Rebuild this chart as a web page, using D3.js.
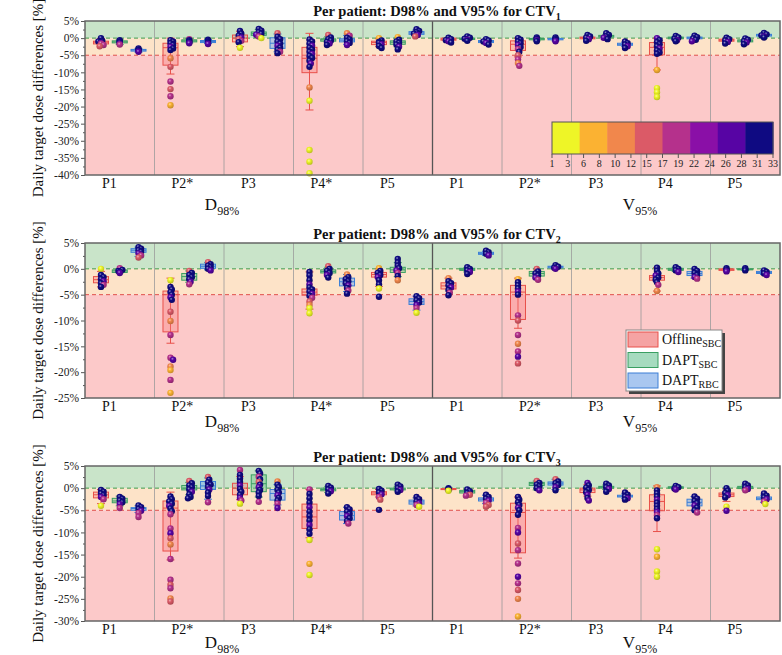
<!DOCTYPE html>
<html>
<head>
<meta charset="utf-8">
<script src="https://cdn.jsdelivr.net/npm/d3@7"></script>
<style>
  body { margin: 0; background: #fff; }
  svg { display: block; }
  text { font-family: "Liberation Serif", "Times New Roman", Times, serif; }
</style>
</head>
<body>
<div id="chart"></div>
<script>
// band labels, left half = D98%, right half = V95%
const bandLabels = ["P1", "P2*", "P3", "P4*", "P5", "P1", "P2*", "P3", "P4", "P5"];
const methods = ["Offline", "DAPT_SBC", "DAPT_RBC"];
const colorbarTicks = [1, 3, 6, 8, 10, 12, 15, 17, 19, 22, 24, 26, 28, 31, 33];
const fractionColors = ["#eef527", "#fbb232", "#f1874c", "#db5a67", "#b5318c", "#8a0fa7", "#5704a4", "#0f0a82"];

// boxes: [whiskerLow, q1, median, q3, whiskerHigh], order = band x method
const ctv1Boxes = [
  [-2.5, -1.7, -1.2, -0.9, -0.1], [-1.9, -1.4, -1.1, -0.8, -0.5], [-4.1, -3.8, -3.5, -3.3, -3.0],
  [-10.5, -7.9, -2.8, -1.5, 0], [-1.4, -1.1, -0.8, -0.5, -0.2], [-1.6, -1.3, -1.0, -0.7, -0.4],
  [-2.5, -1.1, 0, 0.9, 2.0], [0.2, 0.8, 1.3, 1.8, 2.5], [-4.0, -3.0, -1.5, 0.1, 1.2],
  [-21, -10.1, -5.9, -2.7, 1.4], [-1.5, -0.9, -0.5, -0.2, 0.4], [-1.8, -1.1, -0.6, -0.2, 0.8],
  [-2.5, -1.9, -1.3, -0.9, -0.2], [-2.6, -1.8, -1.2, -0.8, 0], [0.6, 1.1, 1.5, 1.9, 2.4],
  [-1.0, -0.6, -0.3, 0, 0.1], [-0.6, -0.4, -0.2, 0, 0.2], [-1.6, -1.3, -1.0, -0.7, -0.4],
  [-5.5, -3.6, -1.8, -0.8, 0], [-0.8, -0.5, -0.3, -0.1, 0.1], [-0.8, -0.5, -0.3, -0.1, 0.1],
  [-0.5, -0.2, 0.1, 0.3, 0.6], [0, 0.3, 0.6, 0.8, 1.1], [-2.4, -2.1, -1.8, -1.5, -1.2],
  [-9.3, -4.9, -2.7, -1.3, 0], [-0.4, -0.2, 0.1, 0.3, 0.5], [-0.4, -0.2, 0.1, 0.3, 0.5],
  [-1.2, -0.9, -0.6, -0.3, 0], [-1.4, -1.1, -0.8, -0.5, -0.2], [0.4, 0.6, 0.9, 1.1, 1.4]
];
// points: [value, fraction]
const ctv1Points = [
  [[0,31],[-0.8,31],[-1.0,29],[-1.2,31],[-1.4,26],[-1.6,19],[-2.0,19],[-2.4,15]],
  [[-0.6,31],[-0.9,31],[-1.1,29],[-1.3,31],[-1.6,26],[-1.9,19]],
  [[-3.0,31],[-3.3,31],[-3.5,29],[-3.7,31],[-4.0,26]],
  [[-0.6,31],[-1.0,29],[-1.5,31],[-2.0,31],[-2.5,26],[-3.0,31],[-3.5,29],[-5.9,10],[-8.4,15],[-12.7,19],[-14.9,15],[-17.0,19],[-19.6,6]],
  [[-0.3,19],[-0.6,31],[-0.9,31],[-1.2,29],[-1.5,26]],
  [[-0.5,31],[-0.8,29],[-1.1,31],[-1.4,31],[-1.7,26]],
  [[2.1,31],[1.3,29],[0.7,31],[0.2,26],[-0.3,15],[-0.8,19],[-1.2,31],[-2.8,2]],
  [[2.7,31],[2.2,31],[1.7,29],[1.3,31],[1.0,26],[0.5,19],[0,2]],
  [[1.4,15],[0.4,31],[-0.3,29],[-1.0,31],[-1.6,31],[-2.2,26],[-2.8,31],[-3.4,29],[-4.0,19],[-4.4,31]],
  [[-0.4,31],[-1.0,29],[-1.6,31],[-2.2,26],[-2.8,31],[-3.4,29],[-4.0,31],[-4.6,26],[-5.2,31],[-5.8,29],[-6.6,31],[-7.4,26],[-8.4,29],[-14.4,10],[-18.3,2],[-32.7,2],[-36.1,2],[-39.5,2]],
  [[0.9,15],[0.2,31],[-0.3,31],[-0.7,29],[-1.1,31],[-1.6,26],[-2.0,31]],
  [[1.4,10],[0.7,19],[0.1,31],[-0.4,31],[-0.9,29],[-1.4,31],[-2.0,26]],
  [[0,6],[-0.7,31],[-1.1,31],[-1.4,29],[-1.8,26],[-2.3,31],[-2.9,31]],
  [[0.3,6],[-0.5,31],[-1.0,31],[-1.4,29],[-1.9,31],[-2.5,26],[-3.3,31]],
  [[2.6,31],[2.1,31],[1.7,29],[1.3,31],[0.9,26],[0.5,15]],
  [[0.1,31],[-0.3,31],[-0.6,29],[-0.9,26],[-1.3,31]],
  [[0.5,31],[0.1,31],[-0.2,29],[-0.5,26],[-0.8,31]],
  [[-0.3,31],[-0.7,29],[-1.0,31],[-1.4,26],[-1.9,31]],
  [[0,31],[-0.5,31],[-1.0,29],[-1.5,31],[-2.0,26],[-2.6,31],[-3.2,19],[-4.0,29],[-5.0,15],[-6.2,19],[-7.3,10],[-8.1,19]],
  [[0.2,31],[-0.1,31],[-0.3,29],[-0.6,26],[-0.9,31]],
  [[0.2,31],[-0.1,29],[-0.3,31],[-0.6,31],[-0.9,26]],
  [[0.9,31],[0.5,31],[0.1,29],[-0.3,26],[-0.8,31]],
  [[1.4,31],[0.9,31],[0.5,29],[0.1,26],[-0.3,31]],
  [[-1.0,31],[-1.5,29],[-1.9,31],[-2.4,26],[-2.9,31]],
  [[0,26],[-0.6,31],[-1.2,29],[-1.8,31],[-2.4,31],[-3.0,26],[-3.6,31],[-4.2,29],[-4.6,31],[-9.3,6],[-14.6,2],[-15.8,2],[-17.2,2]],
  [[0.6,31],[0.2,31],[-0.2,29],[-0.6,26],[-0.9,31]],
  [[0.7,31],[0.3,29],[-0.1,31],[-0.5,31],[-0.9,26]],
  [[0.1,31],[-0.3,31],[-0.7,29],[-1.1,26],[-1.6,31]],
  [[-0.1,31],[-0.5,31],[-0.9,29],[-1.3,26],[-1.8,31]],
  [[1.5,31],[1.1,31],[0.8,29],[0.5,26],[0.2,31]]
];

const ctv2Boxes = [
  [-3.5, -2.7, -2.1, -1.5, -0.5], [-0.8, -0.7, -0.4, -0.2, 0], [2.4, 3.2, 3.6, 3.9, 4.2],
  [-14.4, -12.2, -5.0, -4.3, -1.8], [-2.6, -2.2, -1.5, -0.9, -0.4], [-0.2, 0.1, 0.5, 0.9, 1.2],
  null, null, null,
  [-7.8, -5.1, -4.5, -3.9, -0.6], [-1.2, -0.8, -0.5, -0.2, 0.3], [-4.4, -3.3, -2.5, -1.8, -1.1],
  [-3.4, -1.6, -1.1, -0.7, 0], [-1.5, -0.7, -0.2, 0.3, 1.2], [-8.0, -6.9, -6.3, -5.8, -5.3],
  [-5.0, -3.9, -3.3, -2.7, -1.8], [-0.6, -0.3, -0.1, 0.1, 0.2], [2.6, 2.8, 3.0, 3.2, 3.4],
  [-11.5, -9.8, -4.5, -3.2, -1.8], [-1.8, -1.4, -0.9, -0.5, 0], [0, 0.2, 0.4, 0.5, 0.6],
  null, null, null,
  [-4.3, -2.2, -1.7, -1.3, 0.2], [-0.5, -0.3, -0.1, 0.1, 0.3], [-1.8, -1.3, -0.9, -0.5, 0],
  [-0.4, -0.3, -0.1, 0, 0.1], [-0.3, -0.2, -0.1, 0, 0.1], [-1.1, -0.9, -0.7, -0.5, -0.3]
];
const ctv2Points = [
  [[0,2],[-1.2,31],[-1.6,29],[-2.0,31],[-2.4,26],[-2.8,31],[-3.1,19],[-3.5,29]],
  [[0.1,19],[-0.2,31],[-0.4,29],[-0.6,31],[-0.8,26]],
  [[4.2,31],[3.9,31],[3.6,29],[3.3,31],[3.0,26],[2.6,19],[2.2,15]],
  [[-2.2,2],[-3.5,31],[-4.0,31],[-4.5,29],[-5.0,31],[-5.5,26],[-6.0,29],[-8.3,15],[-10.1,12],[-12.8,19],[-17.2,19],[-17.6,26],[-18.9,10],[-19.6,8],[-21.5,19],[-24.0,6]],
  [[-0.4,15],[-0.8,31],[-1.2,29],[-1.6,31],[-2.0,31],[-2.5,26],[-3.0,19]],
  [[1.3,15],[0.9,31],[0.6,29],[0.3,31],[0,31],[-0.3,26]],
  [], [], [],
  [[-0.6,31],[-1.3,29],[-2.2,31],[-3.0,26],[-3.6,31],[-4.0,29],[-4.4,31],[-4.8,26],[-5.2,31],[-5.6,19],[-6.3,15],[-7.0,10],[-7.6,2],[-8.6,2]],
  [[0.5,15],[0,31],[-0.4,31],[-0.8,29],[-1.2,26],[-1.7,31]],
  [[-1.1,10],[-1.6,31],[-2.0,29],[-2.4,31],[-2.8,31],[-3.2,26],[-3.7,29],[-4.2,19],[-4.8,31]],
  [[0.1,6],[-0.4,31],[-0.8,31],[-1.2,29],[-1.6,26],[-2.2,31],[-3.0,29],[-3.8,2],[-5.4,31]],
  [[1.9,31],[1.2,31],[0.6,29],[0.1,31],[-0.3,26],[-0.8,19],[-1.4,31],[-2.2,10]],
  [[-5.3,31],[-5.7,31],[-6.1,29],[-6.5,31],[-7.0,26],[-7.6,19],[-8.5,2]],
  [[-1.8,10],[-2.4,31],[-2.8,29],[-3.2,31],[-3.6,26],[-4.1,31],[-4.6,19],[-5.1,29]],
  [[0.3,31],[0,31],[-0.3,29],[-0.6,26],[-1.0,31]],
  [[3.5,31],[3.2,29],[2.9,31],[2.6,26]],
  [[-2.0,6],[-2.6,31],[-3.2,29],[-3.8,31],[-4.4,26],[-5.0,31],[-9.0,19],[-10.0,15],[-12.8,19],[-14.5,10],[-16.0,19],[-17.0,26],[-18.3,15]],
  [[0,15],[-0.5,31],[-0.9,29],[-1.3,31],[-1.7,26],[-2.1,19]],
  [[0.7,31],[0.4,29],[0.2,31],[0,26]],
  [], [], [],
  [[0.2,31],[-0.4,29],[-0.9,31],[-1.3,26],[-1.7,31],[-2.1,29],[-2.6,31],[-3.1,19],[-4.3,12]],
  [[0.3,31],[0,29],[-0.3,31],[-0.6,26]],
  [[0,31],[-0.4,29],[-0.8,31],[-1.2,31],[-1.6,26],[-1.9,19]],
  [[0.1,31],[-0.1,31],[-0.3,29],[-0.5,26]],
  [[0.1,31],[-0.1,29],[-0.3,31]],
  [[-0.3,31],[-0.6,29],[-0.9,31],[-1.2,26]]
];

const ctv3Boxes = [
  [-3.5, -2.2, -1.5, -0.9, -0.3], [-4.0, -3.3, -2.9, -2.3, -1.8], [-5.5, -5.0, -4.6, -4.4, -4.0],
  [-16.2, -14.2, -4.5, -2.9, -0.9], [-1.5, -0.4, 0, 0.6, 1.3], [-2.5, -0.3, 0.5, 1.5, 2.3],
  [-2.6, -1.5, 0, 1.1, 2.6], [-2.0, -0.8, 1.0, 3.0, 3.9], [-3.8, -2.7, -1.2, -0.3, 0.8],
  [-11.2, -9.1, -6.5, -3.6, -0.3], [-1.0, -0.6, -0.3, 0, 0.4], [-8.0, -7.2, -6.2, -5.3, -4.3],
  [-2.0, -1.5, -1.1, -0.8, -0.3], [-0.6, -0.4, -0.2, 0, 0.4], [-4.0, -3.6, -3.1, -2.7, -2.2],
  [-0.4, -0.3, -0.2, -0.1, 0], [-1.4, -1.1, -0.8, -0.5, -0.3], [-3.5, -2.9, -2.5, -2.2, -1.6],
  [-15.8, -14.6, -5.5, -3.4, -2.0], [-0.4, 0.6, 1.0, 1.3, 1.6], [-0.3, 0.7, 1.1, 1.4, 2.0],
  [-1.8, -1.0, -0.4, 0, 0.8], [-0.3, 0, 0.2, 0.4, 0.7], [-2.3, -2.0, -1.8, -1.6, -1.3],
  [-9.8, -5.1, -3.0, -1.5, 0.5], [-0.2, 0, 0.2, 0.3, 0.5], [-5.0, -4.0, -3.2, -2.5, -1.9],
  [-3.0, -1.9, -1.5, -1.1, -0.2], [-0.4, -0.1, 0.2, 0.4, 0.7], [-3.2, -2.6, -2.3, -2.0, -1.6]
];
const ctv3Points = [
  [[-0.4,31],[-0.8,31],[-1.2,29],[-1.6,31],[-2.0,26],[-2.5,19],[-4.0,2]],
  [[-2.0,31],[-2.4,31],[-2.8,29],[-3.2,31],[-3.6,26],[-4.5,19]],
  [[-3.9,31],[-4.3,31],[-4.7,29],[-5.1,26],[-5.6,19],[-6.5,19]],
  [[-1.9,31],[-2.5,31],[-3.0,29],[-3.5,31],[-4.0,26],[-4.6,31],[-5.2,29],[-5.9,19],[-9.1,19],[-10.2,26],[-11.3,15],[-12.7,10],[-16.0,19],[-20.7,19],[-21.8,15],[-22.6,19],[-24.9,10],[-25.6,15]],
  [[1.6,15],[1.1,31],[0.6,29],[0.2,31],[-0.3,31],[-0.8,26],[-1.4,31],[-2.0,29],[-2.3,31]],
  [[2.5,15],[1.9,31],[1.3,29],[0.8,31],[0.3,31],[-0.3,26],[-1.0,31],[-1.8,29],[-3.2,19]],
  [[4.1,19],[3.0,31],[2.2,29],[1.4,31],[0.6,26],[-0.2,31],[-0.8,29],[-1.5,31],[-2.2,26],[-2.8,19],[-3.5,2]],
  [[3.9,31],[3.3,31],[2.6,19],[2.0,29],[1.4,15],[0.8,31],[0.2,26],[-0.4,31],[-1.0,29],[-1.8,31],[-3.1,19]],
  [[1.5,10],[0.8,31],[0.2,29],[-0.4,31],[-1.0,31],[-1.6,26],[-2.2,31],[-2.8,29],[-3.5,19],[-4.5,26]],
  [[-0.3,19],[-1.3,31],[-2.3,29],[-3.3,31],[-4.3,26],[-5.3,31],[-6.3,29],[-7.3,31],[-8.3,26],[-9.3,31],[-10.3,29],[-11.7,2],[-17.1,6],[-19.6,2]],
  [[0.5,31],[0.1,31],[-0.3,29],[-0.7,26],[-1.2,31]],
  [[-4.3,31],[-4.8,31],[-5.3,29],[-5.8,31],[-6.3,26],[-6.8,31],[-7.4,29],[-8.0,19]],
  [[-0.2,31],[-0.6,31],[-1.0,29],[-1.4,26],[-2.0,19],[-2.6,15],[-4.9,29]],
  [[0.8,31],[0.4,31],[0,29],[-0.4,26],[-0.8,31]],
  [[-2.0,31],[-2.5,31],[-3.0,29],[-3.4,26],[-3.8,19],[-4.2,2]],
  [[0,31],[-0.2,31],[-0.4,29],[-0.6,2]],
  [[-0.3,31],[-0.7,31],[-1.1,29],[-1.5,15],[-1.7,19]],
  [[-1.5,31],[-2.0,31],[-2.4,29],[-2.8,26],[-3.3,19],[-3.8,15],[-4.2,15]],
  [[-2.0,31],[-2.6,31],[-3.2,29],[-3.8,31],[-4.4,26],[-5.0,31],[-6.0,29],[-9.0,19],[-10.0,26],[-12.5,15],[-14.0,19],[-17.0,19],[-20.0,26],[-21.5,19],[-23.0,15],[-25.0,10],[-29.0,6]],
  [[1.6,15],[1.2,31],[0.8,29],[0.4,31],[0,31],[-0.5,26]],
  [[2.0,15],[1.5,31],[1.1,29],[0.7,31],[0.2,26],[-0.5,31]],
  [[1.2,26],[0.6,31],[0.1,29],[-0.4,31],[-0.9,31],[-1.5,26],[-2.2,29],[-2.8,26]],
  [[1.0,31],[0.6,31],[0.2,29],[-0.2,26],[-0.8,31]],
  [[-1.0,31],[-1.5,31],[-1.9,29],[-2.3,26],[-2.6,31]],
  [[0.2,10],[-0.5,31],[-1.2,29],[-1.9,31],[-2.6,26],[-3.3,31],[-4.0,29],[-4.7,31],[-5.4,26],[-6.1,19],[-6.8,29],[-13.8,2],[-15.5,6],[-18.8,2],[-20.0,2]],
  [[0.5,31],[0.2,31],[-0.1,29],[-0.3,26]],
  [[-1.9,31],[-2.4,31],[-2.9,29],[-3.4,31],[-3.9,26],[-4.4,31],[-5.0,29],[-5.5,19]],
  [[0,31],[-0.6,31],[-1.1,29],[-1.6,26],[-2.1,31],[-4.2,2],[-5.1,26]],
  [[1.0,31],[0.6,31],[0.2,29],[-0.2,26],[-0.5,19]],
  [[-1.2,31],[-1.7,31],[-2.1,29],[-2.5,26],[-3.0,19],[-3.6,2]]
];

const ctvYMin = [-40, -25, -30];
const zoneColors = ["#c9e4c9", "#fde3c8", "#fcc9c9"];

const methodStyle = {
  Offline:  { fill: "rgba(248,120,120,0.35)", stroke: "#e8504a", swatch: "#f5a3a3" },
  DAPT_SBC: { fill: "rgba(110,200,140,0.45)", stroke: "#3a9f62", swatch: "#a6dbbf" },
  DAPT_RBC: { fill: "rgba(120,175,240,0.55)", stroke: "#3c7fd6", swatch: "#a9c7f0" }
};

const W = 782, H = 655;
const svg = d3.select("#chart").append("svg").attr("width", W).attr("height", H);
const defs = svg.append("defs");

fractionColors.forEach((c, i) => {
  const gr = defs.append("radialGradient").attr("id", "ball" + i)
    .attr("cx", "40%").attr("cy", "35%").attr("r", "65%");
  gr.append("stop").attr("offset", "0%").attr("stop-color", d3.interpolateRgb(c, "#fff")(0.55));
  gr.append("stop").attr("offset", "35%").attr("stop-color", c);
  gr.append("stop").attr("offset", "100%").attr("stop-color", d3.color(c).darker(0.7));
});

const colorIdx = d3.scaleQuantize().domain([1, 33]).range(d3.range(8));
const x = d3.scaleBand().domain(d3.range(10)).range([85, 780]);
const bw = x.bandwidth();
const xm = d3.scalePoint().domain(methods).range([bw * 0.23, bw * 0.77]);
const boxW = 15, R = 3.2;

const panels = [
  { boxes: ctv1Boxes, points: ctv1Points, sub: "1", top: 21, bottom: 175, titleY: 16, labY: 188, dvY: 210 },
  { boxes: ctv2Boxes, points: ctv2Points, sub: "2", top: 243, bottom: 398, titleY: 239, labY: 411, dvY: 427 },
  { boxes: ctv3Boxes, points: ctv3Points, sub: "3", top: 466, bottom: 621, titleY: 462, labY: 634, dvY: 648 }
];

// nudge overlapping points sideways a little
function dodge(pts, y) {
  const placed = [];
  return pts.map(([v, f]) => {
    const py = y(v);
    let dx = 0;
    for (let k = 0; k < 5; k++) {
      const cand = k === 0 ? 0 : (k % 2 ? 1 : -1) * Math.ceil(k / 2) * 1.3;
      if (placed.every(p => Math.hypot(p.x - cand, p.y - py) >= R * 0.9)) { dx = cand; break; }
      if (k === 4) dx = 0;
    }
    placed.push({ x: dx, y: py });
    return { v, f, dx, py };
  });
}

panels.forEach((p, pi) => {
  const yMin = ctvYMin[pi];
  const y = d3.scaleLinear().domain([yMin, 5]).range([p.bottom, p.top]);
  const g = svg.append("g");

  // background zones
  const bounds = [5, 0, -5, yMin];
  zoneColors.forEach((c, i) => {
    g.append("rect").attr("x", 85).attr("width", 695)
      .attr("y", y(bounds[i])).attr("height", y(bounds[i + 1]) - y(bounds[i]))
      .attr("fill", c);
  });

  // threshold lines
  g.append("line").attr("x1", 85).attr("x2", 780).attr("y1", y(0)).attr("y2", y(0))
    .attr("stroke", "#3f9a4a").attr("stroke-width", 1).attr("stroke-dasharray", "4,3");
  g.append("line").attr("x1", 85).attr("x2", 780).attr("y1", y(-5)).attr("y2", y(-5))
    .attr("stroke", "#e0504a").attr("stroke-width", 1).attr("stroke-dasharray", "4,3");

  // band dividers
  d3.range(1, 10).forEach(i => {
    g.append("line").attr("x1", x(i)).attr("x2", x(i)).attr("y1", p.top).attr("y2", p.bottom)
      .attr("stroke", i === 5 ? "#555" : "#9a9a9a").attr("stroke-width", i === 5 ? 1.3 : 0.8);
  });

  // y axis
  const ax = g.append("g").attr("transform", "translate(85,0)")
    .call(d3.axisLeft(y).tickValues(d3.range(yMin, 5.1, 5)).tickFormat(d => d + "%").tickSize(4).tickPadding(2));
  ax.attr("font-family", null);
  ax.select(".domain").remove();
  ax.selectAll("line").attr("stroke", "#555");
  ax.selectAll("text").style("font-family", "'Liberation Serif', Times, serif").style("font-size", "11.5px").attr("fill", "#222");
  const minor = g.append("g").attr("transform", "translate(85,0)")
    .call(d3.axisLeft(y).tickValues(d3.range(yMin + 2.5, 5, 5)).tickFormat("").tickSize(2));
  minor.select(".domain").remove();
  minor.selectAll("line").attr("stroke", "#555");

  // boxes
  p.boxes.forEach((b, i) => {
    if (!b) return;
    const m = methods[i % 3], st = methodStyle[m];
    const cx = x(Math.floor(i / 3)) + xm(m);
    const [lo, q1, med, q3, hi] = b;
    const bg = g.append("g").attr("stroke", st.stroke).attr("stroke-width", 1);
    bg.append("line").attr("x1", cx).attr("x2", cx).attr("y1", y(lo)).attr("y2", y(hi));
    [lo, hi].forEach(v => bg.append("line").attr("x1", cx - 4).attr("x2", cx + 4).attr("y1", y(v)).attr("y2", y(v)));
    bg.append("rect").attr("x", cx - boxW / 2).attr("width", boxW)
      .attr("y", y(q3)).attr("height", Math.max(1, y(q1) - y(q3))).attr("fill", st.fill);
    bg.append("line").attr("x1", cx - boxW / 2).attr("x2", cx + boxW / 2).attr("y1", y(med)).attr("y2", y(med));
  });

  // points
  p.points.forEach((pts, i) => {
    if (!pts.length) return;
    const cx = x(Math.floor(i / 3)) + xm(methods[i % 3]);
    g.selectAll(null).data(dodge(pts, y)).enter().append("circle")
      .attr("cx", d => cx + d.dx).attr("cy", d => d.py).attr("r", R)
      .attr("fill", d => "url(#ball" + colorIdx(d.f) + ")");
  });

  // frame
  g.append("rect").attr("x", 85).attr("y", p.top).attr("width", 695).attr("height", p.bottom - p.top)
    .attr("fill", "none").attr("stroke", "#666").attr("stroke-width", 1.5);

  // title
  const t = svg.append("text").attr("x", 437).attr("y", p.titleY).attr("text-anchor", "middle")
    .style("font-size", "14.5px").style("font-weight", "bold").attr("fill", "#111");
  t.append("tspan").text("Per patient: D98% and V95% for CTV");
  t.append("tspan").attr("dy", 4).style("font-size", "10px").text(p.sub);

  // patient labels
  svg.selectAll(null).data(bandLabels).enter().append("text")
    .attr("x", (d, i) => x(i) + 17).attr("y", p.labY)
    .style("font-size", "14px").attr("fill", "#111").text(d => d);

  // metric labels
  [["D", "98%", 222], ["V", "95%", 640]].forEach(([a, s, cx]) => {
    const mt = svg.append("text").attr("x", cx).attr("y", p.dvY).attr("text-anchor", "middle")
      .style("font-size", "17px").attr("fill", "#111");
    mt.append("tspan").text(a);
    mt.append("tspan").attr("dy", 5).style("font-size", "12px").text(s);
  });

  // y title
  svg.append("text").attr("transform", `translate(43,${(p.top + p.bottom) / 2}) rotate(-90)`)
    .attr("text-anchor", "middle").style("font-size", "15px").attr("fill", "#111")
    .text("Daily target dose differences [%]");
});

// colour bar (fraction number) in the first panel
const cb = svg.append("g");
const cbx = d3.scaleLinear().domain([1, 33]).range([552, 773]);
d3.range(8).forEach(i => {
  const [a, b] = colorIdx.invertExtent(i);
  cb.append("rect").attr("x", cbx(a)).attr("width", cbx(b) - cbx(a) + 0.5)
    .attr("y", 122).attr("height", 32).attr("fill", fractionColors[i]);
});
cb.append("rect").attr("x", 552).attr("y", 122).attr("width", 221).attr("height", 32)
  .attr("fill", "none").attr("stroke", "#555").attr("stroke-width", 1);
const cbTick = d3.scalePoint().domain(d3.range(colorbarTicks.length)).range([552, 773]);
colorbarTicks.forEach((t, i) => {
  cb.append("line").attr("x1", cbTick(i)).attr("x2", cbTick(i)).attr("y1", 154).attr("y2", 158)
    .attr("stroke", "#555");
  cb.append("text").attr("x", cbTick(i)).attr("y", 167).attr("text-anchor", "middle")
    .style("font-size", "10px").attr("fill", "#222").text(t);
});

// legend in the second panel
const lg = svg.append("g").attr("transform", "translate(626,330)");
lg.append("rect").attr("x", 3).attr("y", 3).attr("width", 96).attr("height", 61).attr("fill", "#444");
lg.append("rect").attr("width", 96).attr("height", 61).attr("fill", "#fff").attr("stroke", "#888");
const legendSub = ["SBC", "SBC", "RBC"];
const legendMain = ["Offline", "DAPT", "DAPT"];
methods.forEach((m, i) => {
  const st = methodStyle[m];
  lg.append("rect").attr("x", 2).attr("y", 2 + i * 20.5).attr("width", 30).attr("height", 15)
    .attr("fill", st.swatch).attr("stroke", st.stroke);
  const tx = lg.append("text").attr("x", 36).attr("y", 14 + i * 20.5).style("font-size", "14px").attr("fill", "#111");
  tx.append("tspan").text(legendMain[i]);
  tx.append("tspan").attr("dy", 3).style("font-size", "10px").text(legendSub[i]);
});
</script>
</body>
</html>
